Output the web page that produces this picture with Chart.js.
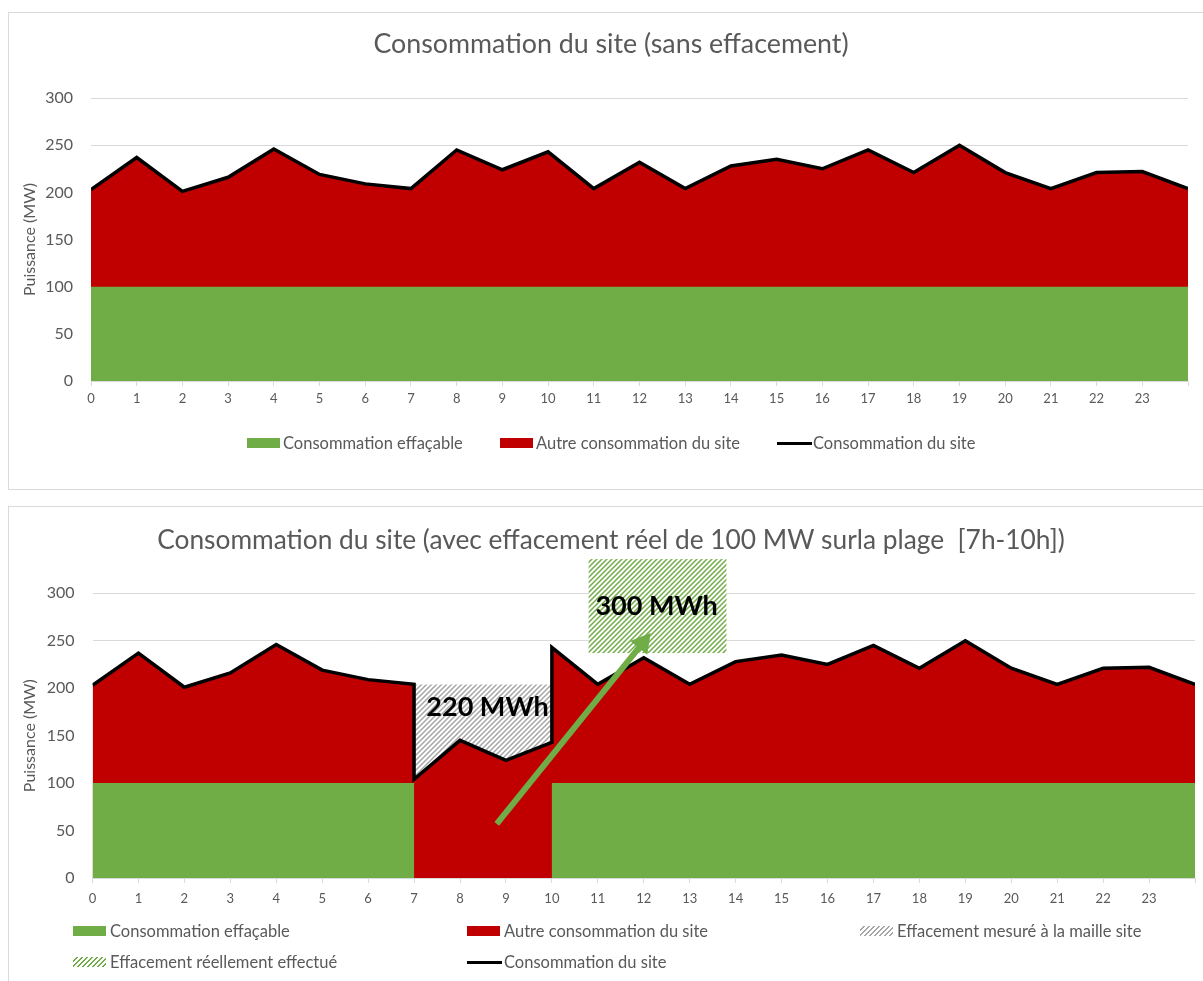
<!DOCTYPE html>
<html>
<head>
<meta charset="utf-8">
<script src="https://cdn.jsdelivr.net/npm/chart.js@4.4.1/dist/chart.umd.min.js"></script>
<style>
body { margin:0; background:#fff; width:1203px; height:981px; overflow:hidden; position:relative; font-family:Lato, sans-serif; color:#595959; }
.cadre { position:absolute; left:8px; border:1px solid #d9d9d9; }
#cadre1 { top:12px; width:1220px; height:476px; }
#cadre2 { top:506px; width:1220px; height:500px; }
.cadre canvas { position:absolute; left:0; top:0; }
.leg { position:absolute; font-size:16.5px; line-height:18px; white-space:nowrap; }
.sw { position:absolute; width:33px; height:10px; }
.trait { position:absolute; width:35px; height:3px; background:#000; }
.vert { background:#70ad47; }
.rouge { background:#c00000; }
.hgris { background:repeating-linear-gradient(-45deg, #fff 0 2px, #a6a6a6 2px 3.5px); }
.hvert { background:repeating-linear-gradient(-45deg, #fff 0 2px, #70ad47 2px 3.5px); }
</style>
</head>
<body>
<div class="cadre" id="cadre1"><canvas id="graph1" width="1204" height="476"></canvas></div>
<div class="cadre" id="cadre2"><canvas id="graph2" width="1204" height="474"></canvas></div>

<!-- legende du haut -->
<div class="sw vert" style="left:247px;top:438px"></div><div class="leg" style="left:283px;top:434px">Consommation effaçable</div>
<div class="sw rouge" style="left:500px;top:438px"></div><div class="leg" style="left:536px;top:434px">Autre consommation du site</div>
<div class="trait" style="left:777px;top:442px"></div><div class="leg" style="left:813px;top:434px">Consommation du site</div>

<!-- legende du bas -->
<div class="sw vert" style="left:73px;top:926px"></div><div class="leg" style="left:110px;top:922px">Consommation effaçable</div>
<div class="sw rouge" style="left:467px;top:926px"></div><div class="leg" style="left:504px;top:922px">Autre consommation du site</div>
<div class="sw hgris" style="left:860px;top:926px"></div><div class="leg" style="left:897px;top:922px">Effacement mesuré à la maille site</div>
<div class="sw hvert" style="left:73px;top:957px"></div><div class="leg" style="left:110px;top:953px">Effacement réellement effectué</div>
<div class="trait" style="left:467px;top:961px"></div><div class="leg" style="left:504px;top:953px">Consommation du site</div>

<script>
// heures et consommation sans effacement (MW)
var heures = [0,1,2,3,4,5,6,7,8,9,10,11,12,13,14,15,16,17,18,19,20,21,22,23,24];
var consoSite = [203,237,201,216,246,219,209,204,245,224,243,204,232,204,228,235,225,245,221,250,221,204,221,222,204];
var consoEffacable = [100,100,100,100,100,100,100,100,100,100,100,100,100,100,100,100,100,100,100,100,100,100,100,100,100];

// avec effacement sur la plage 7h-10h
var heuresAvec = [0,1,2,3,4,5,6,7,7,8,9,10,10,11,12,13,14,15,16,17,18,19,20,21,22,23,24];
var consoAvec = [203,237,201,216,246,219,209,204,104,145,124,143,243,204,232,204,228,235,225,245,221,250,221,204,221,222,204];
var effacableX = [0,7,7,10,10,24];
var effacableY = [100,100,0,0,100,100];
var mesureX = [7,10,10,9,8,7];
var mesureY = [204,204,143,124,145,104];

// annotations
var reelX = [10.8,13.8];
var reelY = [237,336];
var flecheX = [8.8,12.15];
var flecheY = [57,258];
var etiquettes = ['220 MWh','300 MWh'];
var etiquetteX = [8.6,12.28];
var etiquetteY = [180,286];

var yTicks = [0,50,100,150,200,250,300];

var gris_txt = '#595959';
var vert = '#70ad47';
var rouge = '#c00000';

Chart.defaults.font.family = 'Lato';
Chart.defaults.color = gris_txt;
Chart.defaults.animation = false;

function hachures(couleur) {
    var c = document.createElement('canvas');
    c.width = 5; c.height = 5;
    var g = c.getContext('2d');
    g.fillStyle = '#fff';
    g.fillRect(0, 0, 5, 5);
    g.strokeStyle = couleur;
    g.lineWidth = 1.5;
    g.beginPath();
    g.moveTo(0, 5); g.lineTo(5, 0);
    g.moveTo(-1, 1); g.lineTo(1, -1);
    g.moveTo(4, 6); g.lineTo(6, 4);
    g.stroke();
    return g.createPattern(c, 'repeat');
}

function points(xs, ys) {
    return xs.map(function (x, i) { return {x: x, y: ys[i]}; });
}

function zone(data, couleur, ordre, remplissage) {
    return {
        data: data,
        backgroundColor: couleur,
        borderColor: 'rgba(0,0,0,0)',
        borderWidth: 0,
        fill: remplissage || 'origin',
        pointRadius: 0,
        order: ordre
    };
}

function ligne(data) {
    return {
        data: data,
        borderColor: '#000',
        borderWidth: 3.5,
        fill: false,
        pointRadius: 0,
        order: 0
    };
}

function options(titre, g) {
    return {
        responsive: false,
        events: [],
        layout: { padding: { left: 0, right: 0, top: 0, bottom: g.bottom } },
        plugins: {
            legend: { display: false },
            tooltip: { enabled: false },
            title: {
                display: true,
                text: titre,
                color: gris_txt,
                font: { size: g.titleSize, weight: 'normal', lineHeight: 1.2 },
                padding: { top: g.titleTop, bottom: g.titleBottom }
            }
        },
        scales: {
            x: {
                type: 'linear',
                min: 0, max: 24,
                afterFit: function (s) { s.height = 40; },
                grid: { drawOnChartArea: false, drawTicks: true, tickLength: 5, color: '#d9d9d9' },
                border: { display: true, color: '#d9d9d9' },
                ticks: {
                    stepSize: 1, autoSkip: false, maxRotation: 0, padding: g.xPad,
                    font: { size: 13 },
                    callback: function (v) { return v === 24 ? '' : v; }
                }
            },
            y: {
                min: 0, max: 300,
                afterFit: function (s) { s.width = g.yWidth; },
                afterBuildTicks: function (s) { s.ticks = yTicks.map(function (v) { return {value: v}; }); },
                grid: { color: '#d9d9d9', drawTicks: false },
                border: { display: false },
                ticks: { padding: 18, font: { size: 16 } },
                title: {
                    display: true, text: 'Puissance (MW)', color: gris_txt,
                    font: { size: 16 }, padding: { top: 11.4, bottom: 0 }
                }
            },
            // marge droite vide
            y2: {
                position: 'right',
                min: 0, max: 300,
                afterFit: function (s) { s.width = g.right; },
                grid: { drawOnChartArea: false, drawTicks: false },
                border: { display: false },
                ticks: { display: false }
            }
        }
    };
}

var annotations = {
    id: 'annotations',
    afterDatasetsDraw: function (chart) {
        var ctx = chart.ctx;
        var sx = chart.scales.x, sy = chart.scales.y;
        ctx.save();
        // boite effacement reel
        var x0 = sx.getPixelForValue(reelX[0]), x1 = sx.getPixelForValue(reelX[1]);
        var y0 = sy.getPixelForValue(reelY[1]), y1 = sy.getPixelForValue(reelY[0]);
        ctx.fillStyle = hachures(vert);
        ctx.fillRect(x0, y0, x1 - x0, y1 - y0);
        // textes
        ctx.fillStyle = '#000';
        ctx.font = 'bold 27px Lato';
        ctx.textAlign = 'center';
        ctx.textBaseline = 'middle';
        for (var i = 0; i < etiquettes.length; i++) {
            ctx.fillText(etiquettes[i], sx.getPixelForValue(etiquetteX[i]), sy.getPixelForValue(etiquetteY[i]));
        }
        // fleche
        var ax = sx.getPixelForValue(flecheX[0]), ay = sy.getPixelForValue(flecheY[0]);
        var bx = sx.getPixelForValue(flecheX[1]), by = sy.getPixelForValue(flecheY[1]);
        var ang = Math.atan2(by - ay, bx - ax);
        var lg = 19, lh = 11;
        var cx = bx - lg * Math.cos(ang), cy = by - lg * Math.sin(ang);
        ctx.strokeStyle = vert;
        ctx.lineWidth = 6;
        ctx.beginPath();
        ctx.moveTo(ax, ay);
        ctx.lineTo(cx + 2 * Math.cos(ang), cy + 2 * Math.sin(ang));
        ctx.stroke();
        ctx.fillStyle = vert;
        ctx.beginPath();
        ctx.moveTo(bx, by);
        ctx.lineTo(cx - lh * Math.sin(ang), cy + lh * Math.cos(ang));
        ctx.lineTo(cx + lh * Math.sin(ang), cy - lh * Math.cos(ang));
        ctx.closePath();
        ctx.fill();
        ctx.restore();
    }
};

new Chart(document.getElementById('graph1'), {
    type: 'line',
    data: {
        datasets: [
            ligne(points(heures, consoSite)),
            zone(points(heures, consoEffacable), vert, 1),
            zone(points(heures, consoSite), rouge, 2)
        ]
    },
    options: options('Consommation du site (sans effacement)',
        { right: 25, bottom: 68, titleSize: 26.8, titleTop: 14.9, titleBottom: 38, yWidth: 82, xPad: 5 })
});

new Chart(document.getElementById('graph2'), {
    type: 'line',
    data: {
        datasets: [
            ligne(points(heuresAvec, consoAvec)),
            zone(points(mesureX, mesureY), hachures('#a6a6a6'), 1, 'shape'),
            zone(points(effacableX, effacableY), vert, 2),
            zone(points(heuresAvec, consoAvec), rouge, 3)
        ]
    },
    options: options('Consommation du site (avec effacement réel de 100 MW surla plage  [7h-10h])',
        { right: 18, bottom: 63, titleSize: 26.3, titleTop: 18.2, titleBottom: 36.5, yWidth: 83.5, xPad: 8 }),
    plugins: [annotations]
});
</script>
</body>
</html>
